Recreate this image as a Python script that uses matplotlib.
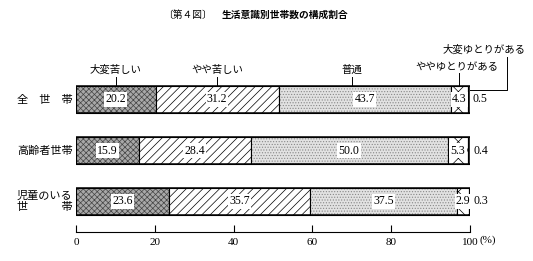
import matplotlib
matplotlib.use("Agg")
from matplotlib import pyplot as plt
import numpy as np

plt.rcParams['font.family'] = ['Noto Sans CJK JP', 'DejaVu Sans']
plt.rcParams['hatch.linewidth'] = 0.5

groups = ['全　世　帯', '高齢者世帯', '児童のいる\n世　　　帯']
levels = ['大変苦しい', 'やや苦しい', '普通', 'ややゆとりがある', '大変ゆとりがある']
very_hard = [20.2, 15.9, 23.6]
somewhat_hard = [31.2, 28.4, 35.7]
normal = [43.7, 50.0, 37.5]
somewhat_easy = [4.3, 5.3, 2.9]
very_easy = [0.5, 0.4, 0.3]
xticks = [0, 20, 40, 60, 80, 100]

series = [very_hard, somewhat_hard, normal, somewhat_easy, very_easy]
faces = ['#a8a8a8', 'white', '#e2e2e2', 'white', 'white']
hatch_cols = ['#444444', 'black', '#888888', 'black', 'black']
hatches = ['xxxxxx', '////', '......', 'xx', None]

fig = plt.figure(figsize=(5.33, 2.61), dpi=100)
ax = fig.add_axes([76 / 533, 29 / 261, 394 / 533, 192 / 261])

rows = np.arange(len(groups))
h = 27 / 51
left = np.zeros(len(groups))
for vals, fc, hc, ht in zip(series, faces, hatch_cols, hatches):
    ax.barh(rows, vals, left=left, height=h, color=fc, hatch=ht,
            edgecolor=hc, linewidth=0)
    # segment borders
    ax.barh(rows, vals, left=left, height=h, fill=False, edgecolor='black',
            linewidth=0.8)
    left += np.array(vals)
# outline boxes
ax.barh(rows, left, height=h, fill=False, edgecolor='black', linewidth=1.1)

# value labels
serif = 'Liberation Serif'
left = np.zeros(len(groups))
for k, vals in enumerate(series):
    for i, v in enumerate(vals):
        if k < 4:
            ax.text(left[i] + v / 2, i, f'{v:.1f}', ha='center', va='center',
                    fontsize=8.5, family=serif,
                    bbox=dict(boxstyle='square,pad=0.1', fc='white', ec='none'))
        else:
            ax.text(left[i] + v + 0.8, i, f'{v:.1f}', ha='left', va='center',
                    fontsize=8.5, family=serif)
    left += np.array(vals)

# category labels
ax.text(-15, 0, groups[0], ha='left', va='center', fontsize=8)
ax.text(-15, 1, groups[1], ha='left', va='center', fontsize=8)
ax.text(-15, 2, groups[2], ha='left', va='center', fontsize=8, linespacing=1.05)

# segment labels with leader lines (top row)
top = -h / 2
lab_y = -0.58
pos0 = very_hard[0] / 2
pos1 = very_hard[0] + somewhat_hard[0] / 2
pos2 = 70
pos3 = very_hard[0] + somewhat_hard[0] + normal[0] + somewhat_easy[0] / 2
for x, name in [(pos0, levels[0]), (pos1, levels[1]), (pos2, levels[2])]:
    ax.text(x, lab_y, name, ha='center', va='center', fontsize=7.5)
    ax.plot([x, x], [-0.44, top], color='black', lw=0.7, clip_on=False)
ax.text(96.6, -0.64, levels[3], ha='center', va='center', fontsize=7.5)
ax.plot([pos3, pos3], [-0.52, top], color='black', lw=0.7, clip_on=False)
ax.text(103.5, -0.98, levels[4], ha='center', va='center', fontsize=7.5)
ax.plot([109.5, 109.5, 100], [-0.84, -0.19, -0.19], color='black', lw=0.7,
        clip_on=False)

ax.set_xlim(0, 100)
ax.set_ylim(2 + (232 - 201.5) / 51, 2 + (232 - 201.5) / 51 - 192 / 51)
ax.set_yticks([])
ax.set_xticks(xticks)
ax.set_xticklabels([str(t) for t in xticks], family=serif, fontsize=8)
ax.tick_params(axis='x', direction='in', length=5, width=0.8, pad=4)
for s in ['top', 'left', 'right']:
    ax.spines[s].set_visible(False)
ax.spines['bottom'].set_linewidth(0.8)
ax.text(102.5, 2 + (240 - 201.5) / 51, '(%)', ha='left', va='center',
        fontsize=8, family=serif)

fig.text(163 / 533, 1 - 15 / 261, '〔第４図〕', ha='left', va='center', fontsize=7)
fig.text(222 / 533, 1 - 15 / 261, '生活意識別世帯数の構成割合', ha='left',
         va='center', fontsize=7, fontweight='bold')

fig.savefig('out.png', dpi=100)
